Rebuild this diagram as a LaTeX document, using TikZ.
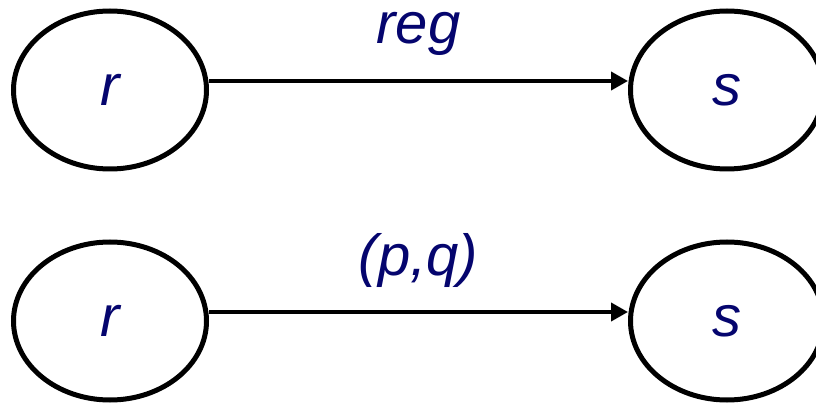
\documentclass[tikz,border=0pt]{standalone}
\usepackage{fontspec}
\setmainfont{Liberation Sans}
\usetikzlibrary{shapes.geometric,arrows.meta}
\definecolor{labnavy}{RGB}{5,5,110}

\begin{document}
\begin{tikzpicture}[x=1pt,y=1pt,
        state/.style={draw,ellipse,line width=5pt,minimum width=193pt,minimum height=158pt,inner sep=0pt},
        trans/.style={line width=3.8pt,-{Triangle[length=17pt,width=18pt]}},
        txt/.style={text=labnavy,font=\fontsize{58}{60}\selectfont\itshape}]
        \useasboundingbox (0,0) rectangle (816,402);
        \clip (0,0) rectangle (816,402);
        \foreach \row/\yy/\lab in {1/312/reg, 2/81/{(p,q)}}{
            \node[state] (r\row) at (110,\yy) {};
            \node[state] (s\row) at (727,\yy) {};
            \node[txt] at (r\row) {r};
            \node[txt] at (s\row) {s};
            \draw[trans] ([yshift=9pt]r\row.east) -- ([yshift=9pt]s\row.west)
                node[midway,anchor=base,yshift=37pt,txt] {\lab};
        }
    \end{tikzpicture}
\end{document}
